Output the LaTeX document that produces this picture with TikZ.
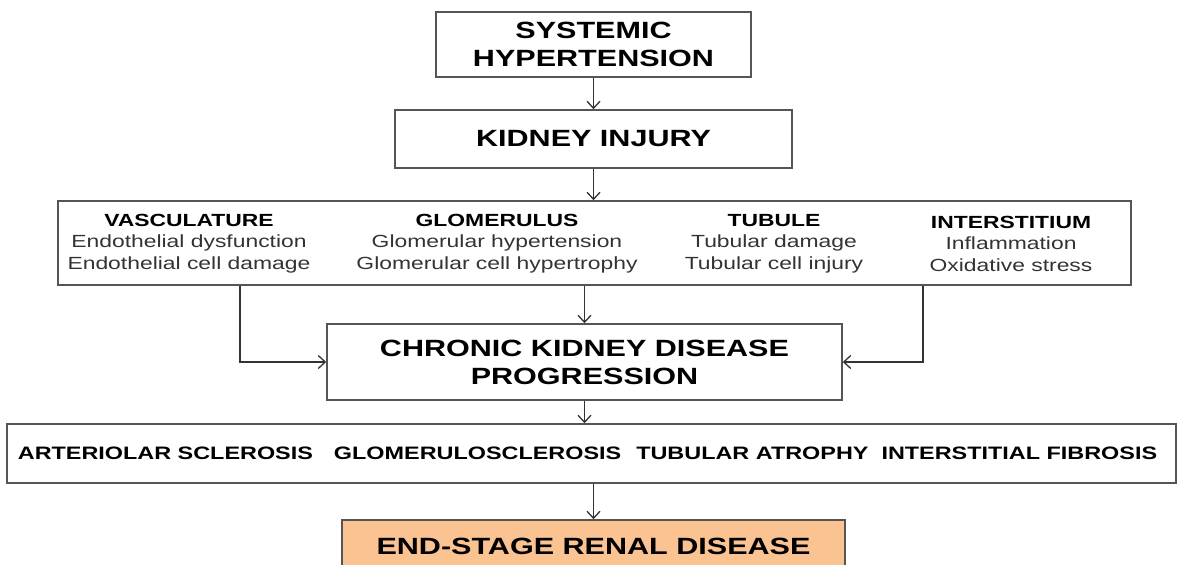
\documentclass[tikz,border=0pt]{standalone}
\usepackage{fontspec}
\setmainfont[FakeStretch=1.3]{Liberation Sans}
\usetikzlibrary{arrows.meta}

\definecolor{ckdLine}{HTML}{555555}
\definecolor{ckdArrow}{HTML}{333333}
\definecolor{ckdText}{HTML}{333333}
\definecolor{ckdPeach}{HTML}{FAC391}

\begin{document}
\begin{tikzpicture}[x=1pt,y=-1pt,
  box/.style={draw=ckdLine,line width=1.6pt,inner sep=0pt,align=center},
  bighead/.style={font=\fontsize{23.5}{28}\selectfont\bfseries},
  col/.style={inner sep=0pt,align=center,text=ckdText,font=\fontsize{17.6}{21.5}\selectfont},
  link/.style={draw=ckdArrow,line width=1.3pt,-{Straight Barb[length=7pt,width=13pt]}}]
  \useasboundingbox (0,0) rectangle (1179,565);
  \clip (0,0) rectangle (1179,565);

  \node[box,bighead,minimum width=315,minimum height=65] (sh) at (593.5,44.5) {SYSTEMIC\\HYPERTENSION};
  \node[box,bighead,minimum width=397,minimum height=58] (ki) at (593.5,139) {KIDNEY INJURY};

  % mechanisms, four columns in one box
  \node[box,minimum width=1073,minimum height=84] (mech) at (594.5,243) {};
  \node[col] (vas) at (189,243.5) {{\bfseries\color{black}VASCULATURE}\\Endothelial dysfunction\\Endothelial cell damage};
  \node[col] (glo) at (497,243.5) {{\bfseries\color{black}GLOMERULUS}\\Glomerular hypertension\\Glomerular cell hypertrophy};
  \node[col] (tub) at (774,243.5) {{\bfseries\color{black}TUBULE}\\Tubular damage\\Tubular cell injury};
  \node[col] (int) at (1011,243.5) {{\bfseries\color{black}INTERSTITIUM}\\Inflammation\\Oxidative stress};

  \node[box,bighead,minimum width=515,minimum height=76] (ckd) at (584.5,362) {CHRONIC KIDNEY DISEASE\\PROGRESSION};

  \node[box,font=\fontsize{18}{22}\selectfont\bfseries,minimum width=1169,minimum height=59] (scl) at (591.5,453.5)
    {ARTERIOLAR SCLEROSIS\hspace{21pt}GLOMERULOSCLEROSIS\hspace{15pt}TUBULAR ATROPHY\hspace{13pt}INTERSTITIAL FIBROSIS\hspace{8pt}};

  \node[box,bighead,fill=ckdPeach,minimum width=503,minimum height=52] (esrd) at (593.5,546) {END-STAGE RENAL DISEASE};

  % connectors
  \coordinate (ldrop) at (240,0);
  \coordinate (rdrop) at (923,0);
  \draw[link] (sh) -- (ki);
  \draw[link] (ki) -- (ki |- mech.north);
  \draw[link] (mech.south -| ldrop) |- (ckd.west);
  \draw[link] (mech.south -| rdrop) |- (ckd.east);
  \draw[link] (mech.south -| ckd) -- (ckd.north);
  \draw[link] (ckd) -- (ckd |- scl.north);
  \draw[link] (scl.south -| esrd) -- (esrd.north);
\end{tikzpicture}
\end{document}
